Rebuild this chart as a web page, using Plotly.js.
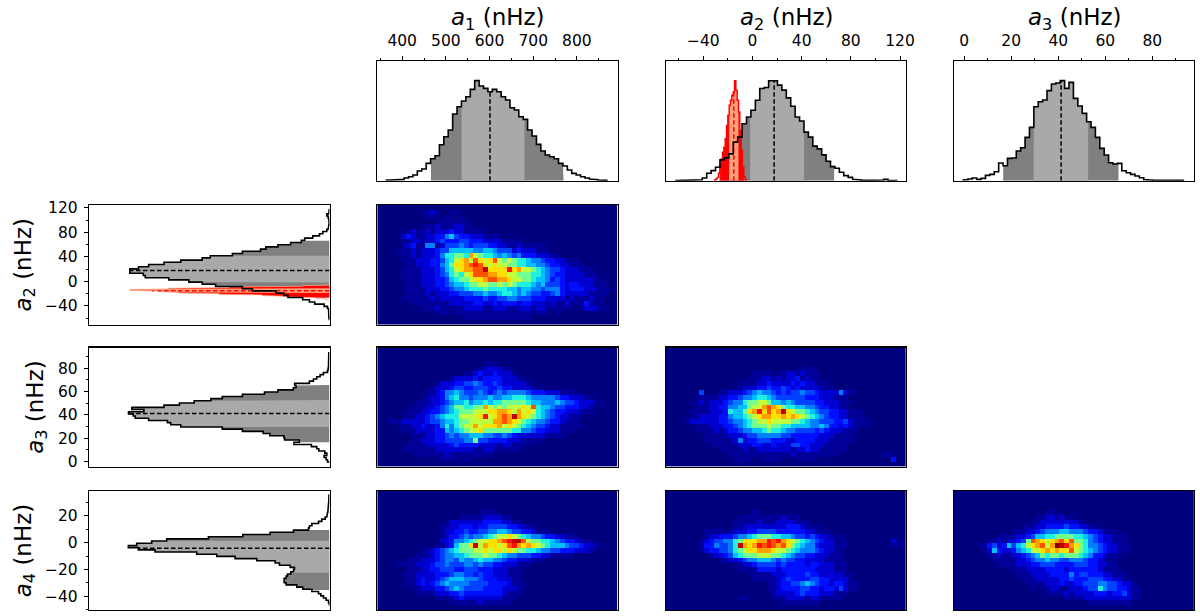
<!DOCTYPE html>
<html><head><meta charset="utf-8">
<script src="https://cdn.plot.ly/plotly-3.0.1.min.js"></script>
<style>html,body{margin:0;padding:0;background:#fff}#c{width:1200px;height:616px}</style>
</head><body><div id="c"></div>
<script>
// --- axis scale settings (value units) ---
const a1Range=[343,893], a2Range=[-70.5,124.7], a3Range=[-4.4,97.7], a4Range=[-50.3,38.6];
// --- marginal histograms: first edge, bin width, heights ---
const a1Start=364, a1Bin=10.1;
const a1Counts=[2,2,2.5,4,8,12,17,29,35,52,66,75,108,132,152,200,222,239,252,274,300,284,277,267,274,267,252,242,219,212,192,184,152,134,109,89,77,72,66,52,44,32,22,17,12,8,5,3,2,1];
const a2Start=-62.4, a2Bin=3.596;
const a2Counts=[0.5,1,1,1,1.5,3,8,22,30,40,62,68,80,115,130,170,190,210,240,275,278,298,298,285,270,247,222,190,178,145,130,103,95,77,58,42,37,25,15,10,4,2,1,0.5,1,1,2,4,1,0.5];
const a2RedStart=-30.9, a2RedBin=1.085;
const a2RedCounts=[2,5,10,22,45,65,85,100,125,165,195,225,240,255,265,298,270,240,205,150,90,40,12,3];
const a3Start=-0.28, a3Bin=1.869;
const a3Counts=[3,5,8,4,7,16,19,27,53,45,67,68,89,99,130,160,222,237,242,270,290,293,300,277,295,247,224,202,177,160,130,97,77,54,50,52,30,24,19,14,9,3,2,1.5,1.5,1,1,1,1,1];
const a4Start=-46.3, a4Bin=1.638;
const a4Counts=[1,3,10,18,26,33,53,80,98,130,136,136,130,126,116,108,105,118,150,163,218,283,338,398,523,573,603,578,533,488,363,260,178,108,63,60,53,33,23,13,8,6,5,4,3.5,3,2.5,2,2,1.5];
// --- credible bands: [2-sigma low, 1-sigma low, median, 1-sigma high, 2-sigma high] ---
const a1Bands=[465.8,536,601,680,769.4];
const a2Bands=[-27,-1.9,17.6,42,66.4];
const a2RedBands=[-26.3,-19,-15.2,-11.4,-7.05];
const a3Bands=[16.6,29.5,41.2,52.7,65.6];
const a4Bands=[-35.4,-22.4,-4.2,1.5,9.5];
// --- 2D density panels: hex level per cell, top row first ---
const heatA1A2=[
"0000000000 0000000000 0000000000 0000000000 0000000000",
"0000000001 1210011000 0000000000 0000000000 0000000000",
"0000000000 1110110100 0000000000 0000000000 0000000000",
"0000000000 0011111110 0000000000 0000000000 0000000000",
"0000000001 1121112211 0000000000 0000000000 0000000000",
"0000001211 2122232211 1100000000 0000000000 0000000000",
"0000023211 2233564332 2211110000 0000000000 0000000000",
"0000011221 2234333443 3322221111 0000000000 0000000000",
"0000012311 5512444543 4443322112 1111100000 0000000000",
"0000111212 2234466666 5566544423 2221110000 0000000000",
"0000011212 223577887b 9877656545 3332221100 0000000000",
"0000011122 2334679ab9 ca9ac98987 7655433221 1100000000",
"0000001122 233568aabc dca9a99887 7665543322 1110000000",
"0000011112 2234679abb cceaaaadab 9987654432 2211100000",
"0000011112 223457879a cccbbaa998 8877654332 2221110000",
"0000011112 2233467889 aabccbba99 8876653432 2222211000",
"0000001112 2233456678 8998898987 7765644432 3322211100",
"0000011111 2223345567 7787777665 6655455532 3332221110",
"0000001111 2122233444 5565567765 6544334532 2222111100",
"0000011111 1212222233 3343344554 4433322221 2111211000",
"0000000111 1111122222 3322323332 3322212112 1113111000",
"0000000001 1121111122 2211222112 2212211111 1012221100",
"0000000000 0011101111 1111111111 1111110100 0000000000",
"0000000000 0000000011 1111111111 1100000000 0000000000",
"0000000000 0000000000 0000000000 0000000000 0000000000"];
const heatA1A3=[
"0000000000 0000000000 0000000000 0000000000 0000000000",
"0000000000 0000000000 0000000000 0000000000 0000000000",
"0000000000 0000000000 0000000000 0000000000 0000000000",
"0000000000 0000000000 0011100000 0000000000 0000000000",
"0000000000 0000000000 1122221100 0000000000 0000000000",
"0000000000 0000000011 2322322210 0000000000 0000000000",
"0000000000 0000012222 3233332221 1000000000 0000000000",
"0000000000 0012223344 5433432222 2100000000 0000000000",
"0000000000 0122234433 4443343322 2211000000 0000000000",
"0000000000 1123556544 4543454555 5433322211 1100000000",
"0000000001 1223567554 5556556677 7655555433 2221100000",
"0000000011 1223456675 6676778888 8766555654 4322211000",
"0000000111 2234568877 88b9898999 a9c7665443 3322110000",
"0000001112 2334567888 999aabba9b 9a97654332 2211100000",
"0000011122 3456777999 9ad9abcbeb a987654322 1110000000",
"0011122222 3445667889 9999bbcba9 8765543321 1100000000",
"0000111223 2235757899 b9aaab9a98 7654432211 1110000000",
"0000011122 2233656789 9a88888877 5543322211 1000000000",
"0000000111 2233454556 6655445432 2222211110 0000000000",
"0000000112 2233444455 8443333222 1111000000 0000000000",
"0000001111 2222234333 3222212211 1100000000 0000000000",
"0000011111 1122222222 1122111111 0000000000 0000000000",
"0000000111 1111211111 1111000000 0000000000 0000000000",
"0000000000 0001111011 0000000000 0000000000 0000000000",
"0000000000 0000000000 0000000000 0000000000 0000000000"];
const heatA2A3=[
"0000000000 0000000000 0000000000 0000000000 0000000000",
"0000000000 0000000000 0000000000 0000000000 0000000000",
"0000000000 0000000000 0000000000 0000000000 0000000000",
"0000000000 0000000000 0000000000 0000000000 0000000000",
"0000000000 0000000000 0000000111 1000000000 0000000000",
"0000000000 0000000011 1101122121 1100000000 0000000000",
"0000000000 0000000111 2212122312 1100000000 0000000000",
"0000000000 0000011112 2322223232 2111000000 0000000000",
"0000000000 0000112223 3433432322 2211100000 0000000000",
"0000000400 0112223456 5543434454 4322225211 0000000000",
"0000001111 1223345567 7654444443 3322211100 0000000000",
"0000011212 2234557889 9866565444 4332221110 0000000000",
"0000001112 2335566899 bcba877665 5433221100 0000000000",
"0000011112 2237668abd acabea9887 6544332211 1000000000",
"0000011222 233566789a bbaababa98 7654332211 1100000000",
"0000122222 2334556789 9a99998876 5544433421 1110000000",
"0000001112 2233456788 8988776666 5565332321 1100000000",
"0000001111 2123345566 7877655444 4343222111 0000000000",
"0000000011 1112223445 5555443333 3322211110 0000000000",
"0000000011 1111252334 4433322333 3222111111 0000000000",
"0000000001 1111122233 2232224433 2221111100 0000000000",
"0000000000 0111112112 2222221223 2211111100 0000000000",
"0000000000 0001111111 1111112111 1111110000 0000011000",
"0000000000 0000111100 1111000111 1000000000 0000000300",
"0000000000 0000010000 0000000000 0000000000 0000000000"];
const heatA1A4=[
"0000000000 0000000000 0000000000 0000000000 0000000000",
"0000000000 0000000000 0000000000 0000000000 0000000000",
"0000000000 0000000000 0000000000 0000000000 0000000000",
"0000000000 0000000000 0000000000 0000000000 0000000000",
"0000000000 0000000000 0111100000 0000000000 0000000000",
"0000000000 0000000111 1122221100 0000000000 0000000000",
"0000000000 0000122222 2233332211 0000000000 0000000000",
"0000000000 0001122333 2334444332 2110000000 0000000000",
"0000000000 0001223343 3445566544 3321110000 0000000000",
"0000000000 0001233454 5567899a98 7655433221 1100000000",
"0000000000 0002235567 899aabcdee c988776543 3211100000",
"0000000000 001123688a e9baa9acdb aba9876665 4432211000",
"0000000001 1234567888 99a9aa9a98 8776554433 3222110000",
"0000000011 1234556678 8898876554 4433221111 1000000000",
"0000001112 2234554655 6766554332 2211100000 0000000000",
"0000111122 2344544455 4544332221 1100000000 0000000000",
"0000001112 2334443344 4333222111 0000000000 0000000000",
"0000011122 2233345544 3433222111 0000000000 0000000000",
"0000001123 2234566655 5433322211 0000000000 0000000000",
"0000011123 2345655554 4443333211 1000000000 0000000000",
"0000000112 2233456544 4433332221 1000000000 0000000000",
"0000000011 1122233433 3333332111 0000000000 0000000000",
"0000000000 0011112322 2222221110 0000000000 0000000000",
"0000000000 0000011111 1211111100 0000000000 0000000000",
"0000000000 0000000000 0000000000 0000000000 0000000000"];
const heatA2A4=[
"0000000000 0000000000 0000000000 0000000000 0000000000",
"0000000000 0000000000 0000000000 0000000000 0000000000",
"0000000000 0000000000 0000000000 0000000000 0000000000",
"0000000000 0000000000 0000000000 0000000000 0000000000",
"0000000000 0000000011 0000000000 0000000000 0000000000",
"0000000000 0000011111 1111211100 0000000000 0000000000",
"0000000000 0000111112 1112222111 0000000000 0000000000",
"0000000000 0000112222 2222233321 1100000000 0000000000",
"0000000011 1111222334 4443333332 2111000000 0000000000",
"0000000012 2333455678 8877665443 4322111000 0000000000",
"0000000123 445578aaab bdcdba9876 5432211100 0000000210",
"0000000133 54457ebabd cdcbca8765 5322211100 0000000110",
"0000000123 3445789aab bba9987655 5432211000 0000000000",
"0000000001 2234678889 9988765443 3222111000 0000000000",
"0000000000 0112234556 6654544332 2221111000 0000000000",
"0000000000 0000112234 4443433332 3322211100 0000000000",
"0000000000 0000011113 3332333333 3222211100 0000000000",
"0000000000 0000000111 1122233334 3322222110 0000000000",
"0000000000 0000000011 1112343333 4433222210 0000000000",
"0000000000 0000000000 0112334456 5433233211 0000000000",
"0000000000 0000000000 0112333344 3323324211 0000000000",
"0000000000 0000000000 0012222343 3322211100 0000000000",
"0000000000 0000011000 0011122221 2211111000 0000000000",
"0000000000 0000000000 0000111111 1100000000 0000000000",
"0000000000 0000000000 0000000000 0000000000 0000000000"];
const heatA3A4=[
"0000000000 0000000000 0000000000 0000000000 0000000000",
"0000000000 0000000000 0000000000 0000000000 0000000000",
"0000000000 0000000000 0000000000 0000000000 0000000000",
"0000000000 0000000000 0000000000 0000000000 0000000000",
"0000000000 0000000001 1100000000 0000000000 0000000000",
"0000000000 0000000112 2121100000 0000000000 0000000000",
"0000000000 0000001122 2222221000 0000000000 0000000000",
"0000000000 0000111223 3334332211 0000000000 0000000000",
"0000000000 0011122345 5566555433 2111000000 0000000000",
"0000000001 1112234667 7888877654 3221110000 0000000000",
"0000000112 122348cba9 abcac88754 3221110000 0000000000",
"0000011342 364679abc9 bfedba8755 4322111000 0000000000",
"0000001263 22356799ab abaac98765 4322111000 0000000000",
"0000000112 1122345687 8878887653 3211100000 0000000000",
"0000000011 1112234556 5544555433 2111000000 0000000000",
"0000000001 1112223344 4333344433 2211000000 0000000000",
"0000000000 0011122223 3332333333 2111100000 0000000000",
"0000000000 0001112222 3333534433 3221110000 0000000000",
"0000000000 0000111222 2233433344 4332211000 0000000000",
"0000000000 0000011112 2232233444 5544322100 0000000000",
"0000000000 0000001011 2211222344 7544332110 0000000000",
"0000000000 0000000001 1112122223 3323342110 0000000000",
"0000000000 0000000000 0001111222 2222222110 0000000000",
"0000000000 0000000000 0000000011 1111111000 0000000000",
"0000000000 0000000000 0000000000 0000000000 0000000000"];

// --- styling ---
const FONT='"DejaVu Sans", sans-serif', INK='#000000';
const DARK='#808080', LIGHT='#a9a9a9', RED='#ff0000', SALMON='#ffa07a';
const LEVEL_COLORS=['#00007f','#000098','#0000d0','#0010ff','#0040ff','#0080ff','#00c0ff','#20f0e0','#70ff90','#c0ff40','#ffe000','#ffa000','#ff5000','#ff1000','#c00000','#800000'];
const JET=LEVEL_COLORS.map((c,i)=>[i/15,c]);
const colPx=[[377.3,617.5],[665.8,905.8],[953.8,1194]];
const rowPx=[[61,180.7],[205,324.5],[347.5,466.7],[491,610]];
const leftPx=[89,329.5];
const domX=p=>[p[0]/1200,p[1]/1200];
const domY=p=>[1-p[1]/616,1-p[0]/616];

function edgesOf(start,bin,n){const e=[];for(let i=0;i<=n;i++)e.push(start+bin*i);return e;}
function outline(e,c){const v=[e[0]],h=[0];c.forEach((k,i)=>{v.push(e[i],e[i+1]);h.push(k,k);});v.push(e[e.length-1]);h.push(0);return [v,h];}
function heightAt(e,c,x){for(let i=0;i<c.length;i++)if(x>=e[i]&&x<e[i+1])return c[i];return 0;}
function band(e,c,lo,hi){const v=[lo],h=[0];v.push(lo);h.push(heightAt(e,c,lo));
  for(let i=0;i<c.length;i++){if(e[i]>lo&&e[i]<hi){v.push(e[i],e[i]);h.push(c[i-1]||0,c[i]);}}
  v.push(hi,hi);h.push(heightAt(e,c,hi),0);return [v,h];}

const traces=[];
function add(xa,ya,horizontal,v,h,o){traces.push(Object.assign({type:'scatter',mode:'lines',xaxis:xa,yaxis:ya,
  x:horizontal?h:v,y:horizontal?v:h,showlegend:false,hoverinfo:'skip'},o));}
function drawHist(xa,ya,hz,e,c,b,cols,lineCol,lineW,dashCol,skipLine){
  const f=(p,col)=>add(xa,ya,hz,p[0],p[1],{fill:'toself',fillcolor:col,line:{width:0,color:col}});
  f(band(e,c,b[0],b[4]),cols[0]);f(band(e,c,b[1],b[3]),cols[1]);
  add(xa,ya,hz,[b[2],b[2]],[0,heightAt(e,c,b[2])],{line:{color:dashCol,width:1.5,dash:'4.5px,2.5px'}});
  if(!skipLine){const o=outline(e,c);add(xa,ya,hz,o[0],o[1],{line:{color:lineCol,width:lineW}});}
}
const a1E=edgesOf(a1Start,a1Bin,a1Counts.length), a2E=edgesOf(a2Start,a2Bin,a2Counts.length),
      a3E=edgesOf(a3Start,a3Bin,a3Counts.length), a4E=edgesOf(a4Start,a4Bin,a4Counts.length),
      redE=edgesOf(a2RedStart,a2RedBin,a2RedCounts.length);
const GR=[DARK,LIGHT], RS=[RED,SALMON];

function drawA2(xa,ya,hz,redCol,redW){
  drawHist(xa,ya,hz,a2E,a2Counts,a2Bands,GR,'#000',1.6,'#000',true);
  drawHist(xa,ya,hz,redE,a2RedCounts,a2RedBands,RS,redCol,redW,RED);
  const o=outline(a2E,a2Counts);add(xa,ya,hz,o[0],o[1],{line:{color:'#000',width:1.6}});
}
// top row
drawHist('x','y',false,a1E,a1Counts,a1Bands,GR,'#000',1.6,'#000');
drawA2('x2','y2',false,RED,1.4);
drawHist('x3','y3',false,a3E,a3Counts,a3Bands,GR,'#000',1.6,'#000');
// left column
drawA2('x4','y4',true,SALMON,0.8);
drawHist('x5','y5',true,a3E,a3Counts,a3Bands,GR,'#000',1.6,'#000');
drawHist('x6','y6',true,a4E,a4Counts,a4Bands,GR,'#000',1.6,'#000');
// density panels
function centers(r,n){const a=[];for(let i=0;i<n;i++)a.push(r[0]+(r[1]-r[0])*(i+0.5)/n);return a;}
function drawHeat(xa,ya,rows,xr,yr){
  const z=rows.map(s=>s.replace(/ /g,'').split('').map(ch=>parseInt(ch,16)));
  traces.push({type:'heatmap',xaxis:xa,yaxis:ya,z:z,x:centers(xr,50),y:centers([yr[1],yr[0]],25),
    colorscale:JET,zmin:0,zmax:15,showscale:false,zsmooth:false,hoverinfo:'skip'});
}
drawHeat('x7','y7',heatA1A2,a1Range,a2Range);
drawHeat('x8','y8',heatA1A3,a1Range,a3Range);
drawHeat('x9','y9',heatA2A3,a2Range,a3Range);
drawHeat('x10','y10',heatA1A4,a1Range,a4Range);
drawHeat('x11','y11',heatA2A4,a2Range,a4Range);
drawHeat('x12','y12',heatA3A4,a3Range,a4Range);

// --- axes ---
const frame={showline:true,mirror:true,linecolor:INK,linewidth:1.2,zeroline:false,showgrid:false};
const tickF={family:FONT,size:15.5,color:INK};
const titleF={family:FONT,size:23,color:INK};
function blank(dom,range,extra){return Object.assign({},frame,{domain:dom,range:range,ticks:'',showticklabels:false,fixedrange:true},extra||{});}
function valueAxis(dom,range,major,minor,title,anchor,side,standoff,labelGap){
  const ax=Object.assign({},frame,{domain:dom,range:range,anchor:anchor,side:side,tickmode:'linear',tick0:0,dtick:major,
    ticks:'outside',ticklen:4,tickwidth:1,tickcolor:INK,tickfont:tickF,ticklabelstandoff:labelGap,
    minor:{tickmode:'linear',tick0:0,dtick:minor,ticks:'outside',ticklen:2.2,tickwidth:1,tickcolor:INK,showgrid:false},automargin:false});
  if(title)ax.title={text:title,font:titleF,standoff:standoff};
  return ax;
}
const lay={width:1200,height:616,margin:{l:0,r:0,t:0,b:0},paper_bgcolor:'#fff',plot_bgcolor:'#fff',showlegend:false,autosize:false};
const lab=n=>'<i>a</i><sub>'+n+'</sub> (nHz)';
lay.xaxis =valueAxis(domX(colPx[0]),a1Range,100,50,null,'y','top',0,4);
lay.yaxis =blank(domY(rowPx[0]),[0,359],{anchor:'x'});
lay.xaxis2=valueAxis(domX(colPx[1]),a2Range,40,20,null,'y2','top',0,4);
lay.yaxis2=blank(domY(rowPx[0]),[0,357],{anchor:'x2'});
lay.xaxis3=valueAxis(domX(colPx[2]),a3Range,20,10,null,'y3','top',0,4);
lay.yaxis3=blank(domY(rowPx[0]),[0,359],{anchor:'x3'});
lay.xaxis4=blank(domX(leftPx),[359,0],{anchor:'y4'});
lay.yaxis4=valueAxis(domY(rowPx[1]),a2Range,40,20,lab(2),'x4','left',7,3);
lay.xaxis5=blank(domX(leftPx),[359,0],{anchor:'y5'});
lay.yaxis5=valueAxis(domY(rowPx[2]),a3Range,20,10,lab(3),'x5','left',8,3);
lay.xaxis6=blank(domX(leftPx),[721,0],{anchor:'y6'});
lay.yaxis6=valueAxis(domY(rowPx[3]),a4Range,20,10,lab(4),'x6','left',7,3);
[[7,0,1,a1Range,a2Range],[8,0,2,a1Range,a3Range],[9,1,2,a2Range,a3Range],
 [10,0,3,a1Range,a4Range],[11,1,3,a2Range,a4Range],[12,2,3,a3Range,a4Range]].forEach(p=>{
  const n=p[0];
  lay['xaxis'+n]=blank(domX(colPx[p[1]]),p[3],{anchor:'y'+n});
  lay['yaxis'+n]=blank(domY(rowPx[p[2]]),p[4],{anchor:'x'+n});
});
// column headings sit closer to the tick labels than an axis title can
lay.annotations=[1,2,3].map((n,i)=>({xref:'paper',yref:'paper',x:(colPx[i][0]+colPx[i][1]+2)/2/1200,y:1-18.5/616,
  xanchor:'center',yanchor:'middle',showarrow:false,text:lab(n),font:titleF}));
Plotly.newPlot('c',traces,lay,{displayModeBar:false,staticPlot:true});
</script></body></html>
